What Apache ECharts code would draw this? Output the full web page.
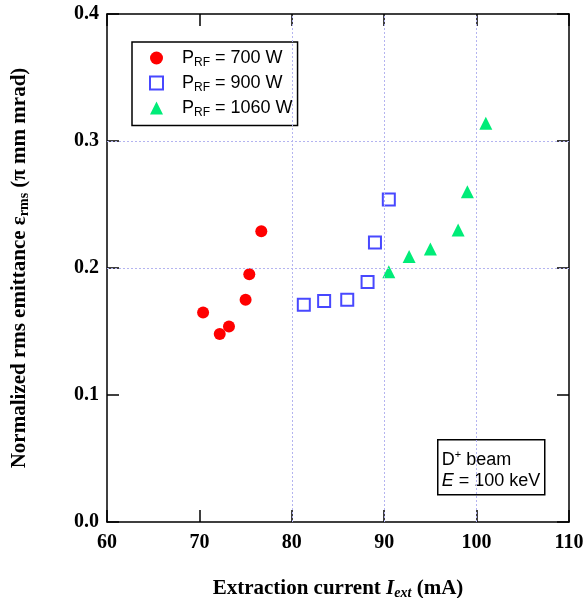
<!DOCTYPE html>
<html>
<head>
<meta charset="utf-8">
<script src="https://cdn.jsdelivr.net/npm/echarts@6/dist/echarts.min.js"></script>
<style>html,body{margin:0;padding:0;background:#fff}#c{width:587px;height:598px}</style>
</head>
<body>
<div id="c"></div>
<script>
// Data
const x700 = [70.4, 72.2, 73.2, 75.0, 75.4, 76.7];
const y700 = [0.165, 0.148, 0.154, 0.175, 0.195, 0.229];
const x900 = [81.3, 83.5, 86.0, 88.2, 89.0, 90.5];
const y900 = [0.171, 0.174, 0.175, 0.189, 0.220, 0.254];
const x1060 = [90.5, 92.7, 95.0, 98.0, 99.0, 101.0];
const y1060 = [0.197, 0.209, 0.215, 0.230, 0.260, 0.314];
const seriesNames = ['P_RF = 700 W', 'P_RF = 900 W', 'P_RF = 1060 W'];
const legendLabels = ['700 W', '900 W', '1060 W'];
const xTicks = [60, 70, 80, 90, 100, 110];
const yTicks = [0.0, 0.1, 0.2, 0.3, 0.4];
const xGridValues = [80, 90, 100];
const yGridValues = [0.2, 0.3];

const zip = (a, b) => a.map((v, i) => [v, b[i]]);
const serif = '"Liberation Serif","Times New Roman",serif';
const sans = '"Liberation Sans",Arial,sans-serif';
const gridStyle = {color: '#b4b4f0', width: 1, type: [2, 2]};

const chart = echarts.init(document.getElementById('c'));
const baseAxisX = {
  type: 'value', min: xTicks[0], max: xTicks[xTicks.length - 1], interval: 10,
  splitLine: {show: false}
};
const baseAxisY = {
  type: 'value', min: yTicks[0], max: yTicks[yTicks.length - 1], interval: 0.1,
  splitLine: {show: false}
};
chart.setOption({
  animation: false,
  backgroundColor: '#fff',
  grid: {left: 107, top: 14, right: 18, bottom: 76, containLabel: false, outerBoundsMode: 'none'},
  xAxis: [
    Object.assign({}, baseAxisX, {
      position: 'bottom',
      axisLine: {onZero: false, lineStyle: {color: '#000', width: 1.5}},
      axisTick: {inside: true, length: 12, lineStyle: {color: '#000', width: 1.5}},
      axisLabel: {margin: 11, color: '#000', fontFamily: serif, fontWeight: 'bold', fontSize: 20},
      name: '{b|Extraction current }{i|I}{s|ext}{b| (mA)}',
      nameLocation: 'middle', nameGap: 56,
      nameTextStyle: {
        rich: {
          b: {fontFamily: serif, fontWeight: 'bold', fontSize: 21, lineHeight: 22, color: '#000'},
          i: {fontFamily: serif, fontWeight: 'bold', fontStyle: 'italic', fontSize: 21, lineHeight: 22, color: '#000'},
          s: {fontFamily: serif, fontWeight: 'bold', fontStyle: 'italic', fontSize: 14, lineHeight: 6, verticalAlign: 'bottom', color: '#000'}
        }
      }
    }),
    Object.assign({}, baseAxisX, {
      position: 'top',
      axisLine: {onZero: false, lineStyle: {color: '#000', width: 1.5}},
      axisTick: {inside: true, length: 12, lineStyle: {color: '#000', width: 1.5}},
      axisLabel: {show: false}
    })
  ],
  yAxis: [
    Object.assign({}, baseAxisY, {
      position: 'left',
      axisLine: {onZero: false, lineStyle: {color: '#000', width: 1.5}},
      axisTick: {inside: true, length: 12, lineStyle: {color: '#000', width: 1.5}},
      axisLabel: {margin: 8, color: '#000', fontFamily: serif, fontWeight: 'bold', fontSize: 20,
        formatter: v => v.toFixed(1)},
      name: '{b|Normalized rms emittance ε}{s|rms}{b| (π mm mrad)}',
      nameLocation: 'middle', nameGap: 76, nameRotate: 90,
      nameTextStyle: {
        rich: {
          b: {fontFamily: serif, fontWeight: 'bold', fontSize: 21, lineHeight: 22, color: '#000'},
          s: {fontFamily: serif, fontWeight: 'bold', fontSize: 14, lineHeight: 6, verticalAlign: 'bottom', color: '#000'}
        }
      }
    }),
    Object.assign({}, baseAxisY, {
      position: 'right',
      axisLine: {onZero: false, lineStyle: {color: '#000', width: 1.5}},
      axisTick: {inside: true, length: 12, lineStyle: {color: '#000', width: 1.5}},
      axisLabel: {show: false}
    })
  ],
  legend: {
    orient: 'vertical', left: 132, top: 42,
    padding: [7, 5, 7, 17],
    itemGap: 5.5, itemWidth: 13, itemHeight: 13,
    backgroundColor: '#fff', borderColor: '#000', borderWidth: 1.5,
    data: seriesNames,
    formatter: name => '{g|}{p|P}{s|RF}{p| = ' + legendLabels[seriesNames.indexOf(name)] + '}',
    textStyle: {
      rich: {
        g: {width: 14, lineHeight: 21},
        p: {fontFamily: sans, fontSize: 18, lineHeight: 21, color: '#000'},
        s: {fontFamily: sans, fontSize: 12, lineHeight: 6, verticalAlign: 'bottom', color: '#000'}
      }
    }
  },
  graphic: [{
    type: 'group', left: 437, top: 439,
    children: [
      {type: 'rect', shape: {x: 0, y: 0, width: 107, height: 55},
        style: {fill: '#fff', stroke: '#000', lineWidth: 1.5}},
      {type: 'text', x: 4, y: 10,
        style: {
          text: '{m|D}{u|+}{m| beam}\n{i|E}{m| = 100 keV}',
          rich: {
            m: {fontFamily: sans, fontSize: 18, lineHeight: 21, fill: '#000'},
            i: {fontFamily: sans, fontStyle: 'italic', fontSize: 18, lineHeight: 21, fill: '#000'},
            u: {fontFamily: sans, fontSize: 11, lineHeight: 6, verticalAlign: 'top', fill: '#000'}
          }
        }}
    ]
  }],
  series: [
    {
      name: 'grid', type: 'scatter', data: [], silent: true,
      markLine: {
        silent: true, symbol: 'none', label: {show: false},
        lineStyle: gridStyle,
        data: xGridValues.map(v => ({xAxis: v})).concat(yGridValues.map(v => ({yAxis: v})))
      },
      z: 1
    },
    {
      name: seriesNames[0], type: 'scatter', symbol: 'circle', symbolSize: 12,
      itemStyle: {color: '#ff0000', opacity: 1},
      data: zip(x700, y700), z: 3
    },
    {
      name: seriesNames[1], type: 'scatter', symbol: 'emptyRect', symbolSize: 12,
      itemStyle: {color: '#4848ff', borderColor: '#4848ff', borderWidth: 1.5, opacity: 1},
      data: zip(x900, y900), z: 3
    },
    {
      name: seriesNames[2], type: 'scatter', symbol: 'triangle', symbolSize: 13,
      itemStyle: {color: '#00ec78', opacity: 1},
      data: zip(x1060, y1060), z: 3
    }
  ]
});
</script>
</body>
</html>
